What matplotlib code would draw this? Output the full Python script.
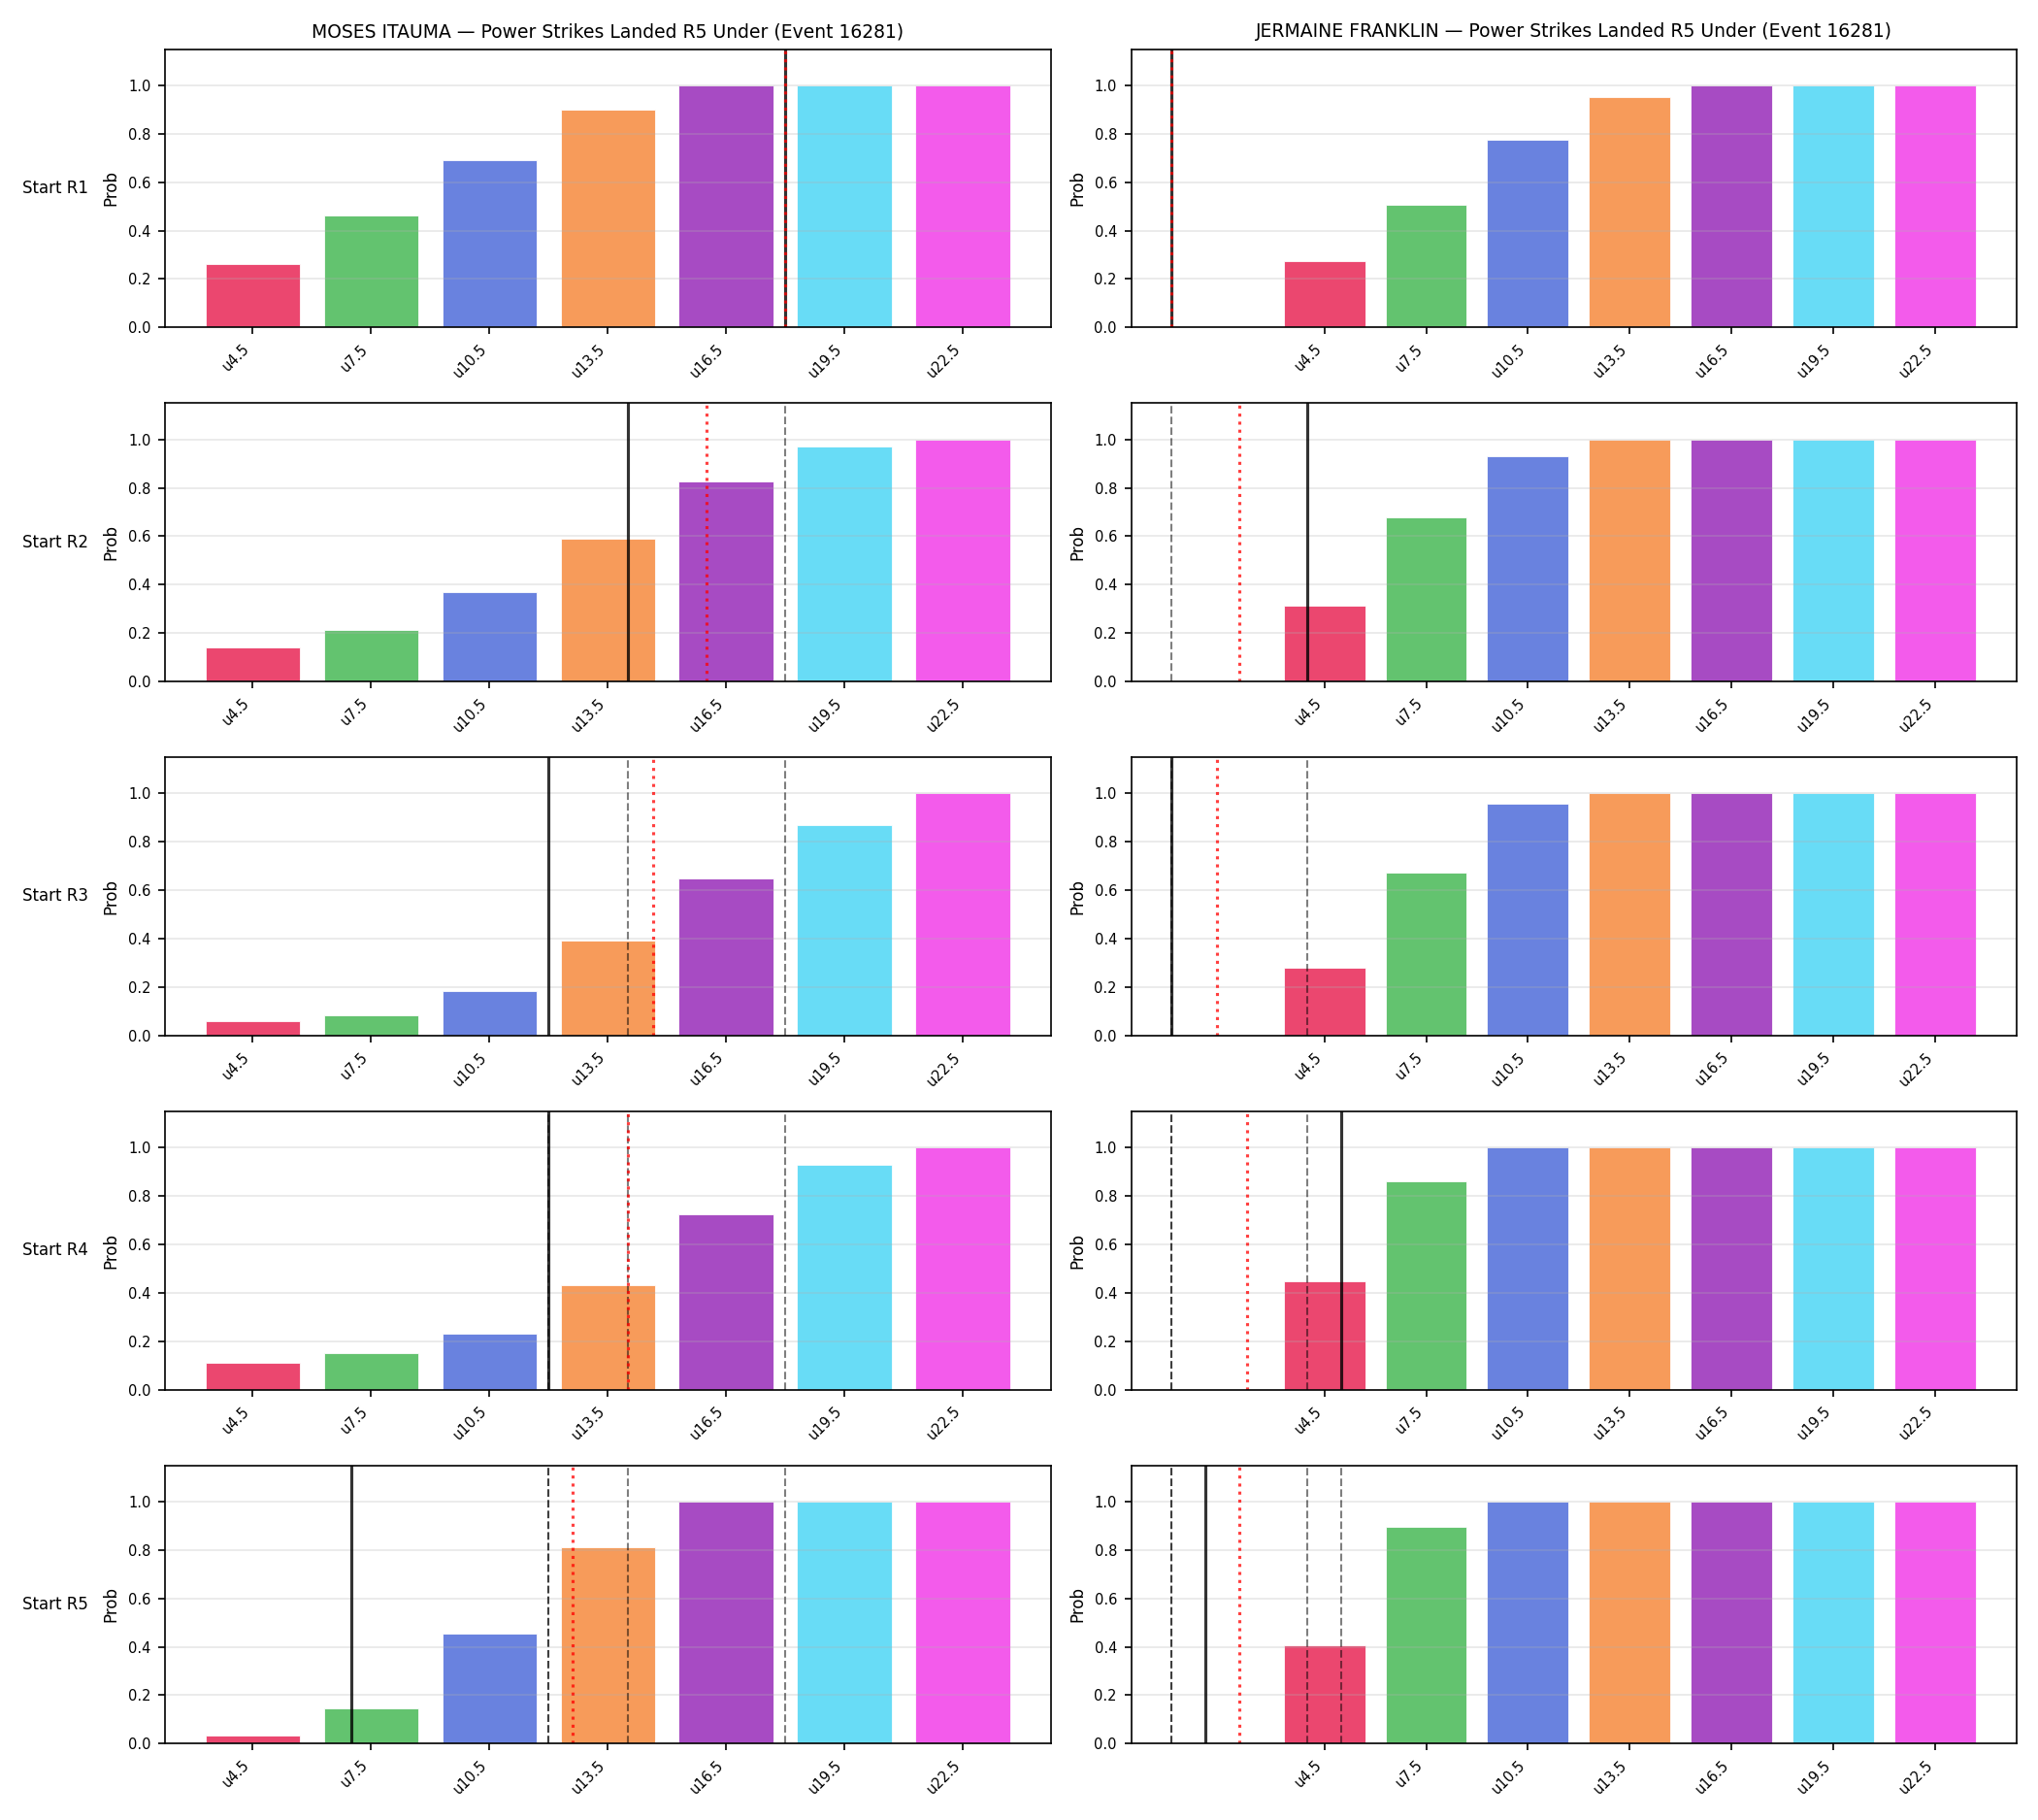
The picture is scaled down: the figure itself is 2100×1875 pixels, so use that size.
import matplotlib
matplotlib.use("Agg")
import matplotlib.pyplot as plt
import numpy as np


# Market lines (under X.5 power strikes landed in R5)
lines = [4.5, 7.5, 10.5, 13.5, 16.5, 19.5, 22.5]
labels = [f"u{l}" for l in lines]
rounds = ["Start R1", "Start R2", "Start R3", "Start R4", "Start R5"]
event_id = 16281

colors = ['#e6194b', '#3cb44b', '#4363d8', '#f58231',
          '#911eb4', '#42d4f4', '#f032e6']

# MOSES ITAUMA
moses_probs = [
    [0.263, 0.464, 0.693, 0.901, 1.0, 1.0, 1.0],
    [0.140, 0.211, 0.371, 0.591, 0.828, 0.972, 0.997],
    [0.060, 0.083, 0.183, 0.392, 0.648, 0.869, 1.0],
    [0.111, 0.151, 0.231, 0.432, 0.725, 0.929, 1.0],
    [0.035, 0.147, 0.456, 0.813, 1.0, 1.0, 1.0],
]
moses_current = [18, 14, 12, 12, 7]
moses_expected = [18, 16, 14.65, 14, 12.6]

# JERMAINE FRANKLIN
franklin_probs = [
    [0.273, 0.508, 0.777, 0.953, 1.0, 1.0, 1.0],
    [0.315, 0.680, 0.932, 1.0, 1.0, 1.0, 1.0],
    [0.279, 0.672, 0.957, 1.0, 1.0, 1.0, 1.0],
    [0.448, 0.861, 1.0, 1.0, 1.0, 1.0, 1.0],
    [0.406, 0.897, 1.0, 1.0, 1.0, 1.0, 1.0],
]
franklin_current = [0, 4, 0, 5, 1]
franklin_expected = [0, 2, 1.34, 2.24, 2]

fighters = [
    ("MOSES ITAUMA", moses_probs, moses_current, moses_expected),
    ("JERMAINE FRANKLIN", franklin_probs, franklin_current, franklin_expected),
]


def to_x(v):
    # place a value on the categorical axis (linear between the lines)
    return (v - lines[0]) / (lines[1] - lines[0])


fig, axes = plt.subplots(5, 2, figsize=(14, 12.5), dpi=150)
fig.subplots_adjust(left=0.081, right=0.9895, top=0.973, bottom=0.042,
                    hspace=0.272, wspace=0.091)

x = np.arange(len(lines))
for col, (name, probs, current, expected) in enumerate(fighters):
    for r in range(len(rounds)):
        ax = axes[r, col]
        ax.bar(x, probs[r], color=colors, alpha=0.8,
               edgecolor='white', linewidth=0.5)

        # earlier rounds
        for prev in current[:r]:
            ax.axvline(to_x(prev), color='black', ls='--', lw=1, alpha=0.5)
        ax.axvline(to_x(current[r]), color='black', lw=1.5, alpha=0.8)
        ax.axvline(to_x(expected[r]), color='red', ls=':', lw=1.5, alpha=0.75)

        ax.set_ylim(0, 1.15)
        ax.set_xticks(x)
        ax.set_xticklabels(labels, rotation=45, ha='right', fontsize=7)
        ax.tick_params(axis='y', labelsize=7)
        ax.set_ylabel("Prob", fontsize=8)
        ax.grid(axis='y', alpha=0.3)

        if r == 0:
            ax.set_title(f"{name} — Power Strikes Landed R5 Under (Event {event_id})",
                         fontsize=9)
        if col == 0:
            ax.text(-0.087, 0.5, rounds[r], transform=ax.transAxes,
                    ha='right', va='center', fontsize=8)

fig.savefig("out.png", dpi=150)
